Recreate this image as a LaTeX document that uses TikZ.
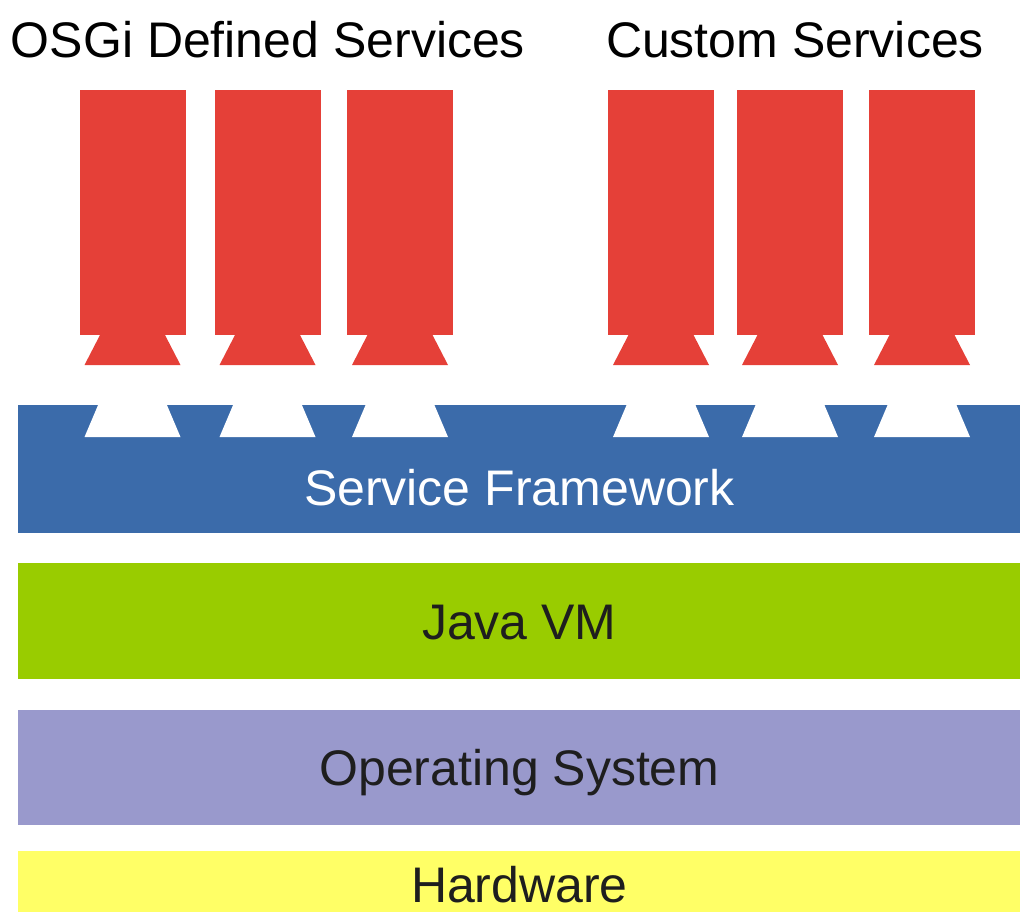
\documentclass[tikz,border=0pt]{standalone}
\usepackage{fontspec}
\setmainfont{Liberation Sans}
\usetikzlibrary{positioning}

\definecolor{svcred}{RGB}{229,64,56}
\definecolor{fwblue}{RGB}{59,107,170}
\definecolor{jvmgreen}{RGB}{153,204,0}
\definecolor{ospurple}{RGB}{153,153,204}
\definecolor{hwyellow}{RGB}{255,255,102}
\definecolor{labelgray}{RGB}{30,30,30}

\tikzset{
  layer/.style={rectangle,inner sep=0pt,minimum width=501pt,
    font=\fontsize{25}{27}\selectfont,text=labelgray,
    text height=18pt,text depth=0pt},
  title/.style={inner sep=0pt,font=\fontsize{25}{27}\selectfont,
    text height=18pt,text depth=0pt},
  service/.style={fill=svcred}
}

\begin{document}
\begin{tikzpicture}[x=0.5pt,y=-0.5pt]
\useasboundingbox (0,0) rectangle (1020,911);

\node (osgi) [title] at (268,39) {OSGi Defined Services};
\node (custom) [title] at (795,39) {Custom Services};

\node (framework) [layer,fill=fwblue,minimum height=64pt,anchor=north west]
  at (18,405) {};
\node (fwlabel) [layer,text=white,minimum width=0pt]
  at ([yshift=-9pt]framework.center) {Service Framework};
\node (jvm) [layer,fill=jvmgreen,minimum height=58pt,below=14.5pt of framework] {Java VM};
\node (os) [layer,fill=ospurple,minimum height=57.5pt,below=15pt of jvm] {Operating System};
\node (hw) [layer,fill=hwyellow,minimum height=34pt,below=12.5pt of os] {Hardware};
\fill[hwyellow] (hw.south west) rectangle ([yshift=-10pt]hw.south east);

% services with their feet, and the sockets in the framework
\foreach \c in {132.5,267.5,400,661,790,922} {
  \fill[service] ({\c-53},90) rectangle ({\c+53},335);
  \fill[service] ({\c-32},334) -- ({\c+32},334) -- ({\c+48},365) -- ({\c-48},365) -- cycle;
  \fill[white] ({\c-34},404) -- ({\c+34},404) -- ({\c+48},437) -- ({\c-48},437) -- cycle;
}
\end{tikzpicture}
\end{document}
